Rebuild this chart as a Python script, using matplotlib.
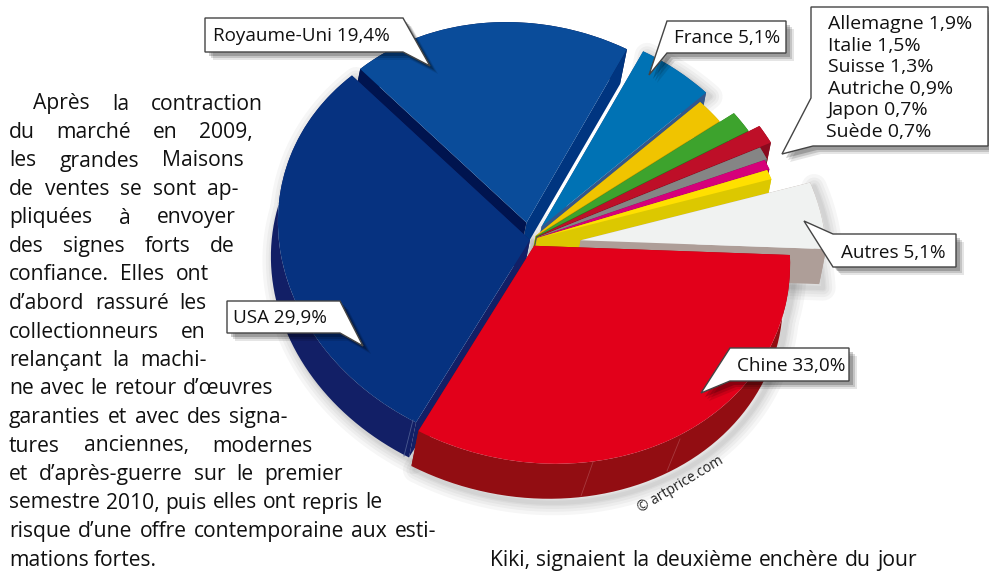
import matplotlib
matplotlib.use('Agg')
import matplotlib.pyplot as plt
import numpy as np
from matplotlib.patches import Polygon
from matplotlib.transforms import Affine2D

# Pie data, clockwise starting from Royaume-Uni
countries = ['Royaume-Uni', 'France', 'Allemagne', 'Italie', 'Suisse', 'Autriche',
             'Japon', 'Suède', 'Autres', 'Chine', 'USA']
shares = [19.4, 5.1, 1.9, 1.5, 1.3, 0.9, 0.7, 0.7, 5.1, 33.0, 29.9]

top_colors = ['#0A4C9A', '#0072B4', '#F0C400', '#3DA32D', '#BE0F28', '#858585',
              '#D6007A', '#FFE000', '#F0F2F1', '#E2001A', '#063280']
wall_colors = ['#00144F', '#33578C', '#B89B00', '#2C7A20', '#8A0A1E', '#6A6A6A',
               '#A00060', '#DCC800', '#AE9E98', '#920D12', '#121F66']
explode = [0.08, 0.08, 0.03, 0.03, 0.04, 0.03, 0.03, 0.03, 0.20, 0.03, 0.0]
radii = [0.92, 0.93, 0.93, 1.0, 1.04, 1.0, 0.99, 0.98, 0.96, 1.0, 0.985]

single_labels = ['Royaume-Uni 19,4%', 'France 5,1%', 'Autres 5,1%', 'USA 29,9%', 'Chine 33,0%']
group_labels = ['Allemagne 1,9%', 'Italie 1,5%', 'Suisse 1,3%', 'Autriche 0,9%', 'Japon 0,7%', 'Suède 0,7%']

body_lines = ['Après la contraction', 'du marché en 2009,', 'les grandes Maisons',
              'de ventes se sont ap-', 'pliquées à envoyer', 'des signes forts de',
              'confiance. Elles ont', 'd’abord rassuré les', 'collectionneurs en',
              'relançant la machi-', 'ne avec le retour d’œuvres', 'garanties et avec des signa-',
              'tures anciennes, modernes', 'et d’après-guerre sur le premier',
              'semestre 2010, puis elles ont repris le',
              'risque d’une offre contemporaine aux esti-', 'mations fortes.']
body_left = [33, 9, 9, 9, 9, 9, 9, 9, 9, 9, 9, 9, 9, 9, 9, 9, 9]
body_right = [263, 253, 244, 239, 236, 235, 209, 206, 206, 207, 273, 288, 313, 343, 382, 436, None]

FONT = 'Open Sans'
CX, CY, RX, RY, SHEAR = 530, 240, 255, 218, -22
WALL_DX, WALL_DY = -7, 35

fig = plt.figure(figsize=(9.89, 5.72), dpi=100)
ax = fig.add_axes([0, 0, 1, 1])

wedges, _ = ax.pie(shares, colors=top_colors, explode=explode, startangle=130, counterclock=False,
                   wedgeprops={'linewidth': 0})
ax.set_aspect('auto')
ax.set_xlim(0, 989)
ax.set_ylim(572, 0)
ax.set_axis_off()

pie_tf = Affine2D.from_values(RX, 0, SHEAR, -RY, CX, CY) + ax.transData


def to_px(u, v):
    return CX + RX * u + SHEAR * v, CY - RY * v


def rim_points(w, t1, t2, n=60):
    t = np.radians(np.linspace(t1, t2, n))
    return to_px(w.center[0] + w.r * np.cos(t), w.center[1] + w.r * np.sin(t))


# painter's order, far slices first
order = [0, 1, 2, 3, 4, 5, 6, 7, 8, 10, 9]

for i in order:
    w = wedges[i]
    w.set_radius(radii[i])
    w.set_transform(pie_tf)
    w.set_clip_on(False)

# Autres sits a little lower than a plain explode puts it
cu, cv = wedges[8].center
wedges[8].set_center((cu, cv - 0.025))

# soft shadow under the outer walls
for i in [1, 8, 9, 10]:
    w = wedges[i]
    x, y = rim_points(w, w.theta1, w.theta2)
    ax0, ay0 = to_px(*w.center)
    xs = np.r_[ax0, x, x[::-1] + WALL_DX, ax0 + WALL_DX]
    ys = np.r_[ay0, y, y[::-1] + WALL_DY, ay0 + WALL_DY]
    for lw in [18, 13, 9, 5, 3]:
        ax.add_patch(Polygon(np.c_[xs + 4, ys + 4], closed=True, facecolor='none', edgecolor='k',
                             linewidth=lw, alpha=0.035, joinstyle='round', zorder=1))

for rank, i in enumerate(order):
    w = wedges[i]
    z = 2 + 2 * rank
    w.set_zorder(z + 1)
    x, y = rim_points(w, w.theta1, w.theta2)
    ax0, ay0 = to_px(*w.center)
    # outer wall plus the two radial sides
    xs = np.r_[x, x[::-1] + WALL_DX]
    ys = np.r_[y, y[::-1] + WALL_DY]
    ax.add_patch(Polygon(np.c_[xs, ys], closed=True, facecolor=wall_colors[i], edgecolor='none', zorder=z))
    for k in [0, -1]:
        xs = [ax0, x[k], x[k] + WALL_DX, ax0 + WALL_DX]
        ys = [ay0, y[k], y[k] + WALL_DY, ay0 + WALL_DY]
        col = wall_colors[i]
        if i == 0 and k == 0:
            col = '#003580'  # right side of Royaume-Uni is lighter
        ax.add_patch(Polygon(np.c_[xs, ys], closed=True, facecolor=col, edgecolor='none', zorder=z))

# faint seams on the front walls
ax.plot([593, 581], [462, 496], color='#A83A3E', lw=0.6, zorder=30)
ax.plot([680, 667], [439, 471], color='#A83A3E', lw=0.6, zorder=30)
ax.plot([413, 404], [420, 456], color='#4A5A90', lw=0.6, zorder=30)


def callout(points):
    pts = np.array(points, dtype=float)
    for off, a in [(8, 0.10), (6, 0.14), (4, 0.20)]:
        ax.add_patch(Polygon(pts + [off, off], closed=True, facecolor='k', edgecolor='none', alpha=a, zorder=40))
    ax.add_patch(Polygon(pts, closed=True, facecolor='white', edgecolor='#444444', linewidth=1.0, zorder=41))


callout([(205, 18), (403, 18), (430, 66), (403, 52), (205, 52)])
callout([(667, 21), (786, 21), (786, 53), (667, 53), (649, 75)])
callout([(811, 7), (988, 7), (988, 146), (813, 146), (782, 154), (811, 98)])
callout([(833, 234), (956, 234), (956, 267), (833, 267), (804, 221)])
callout([(227, 301), (340, 301), (363, 346), (340, 333), (227, 333)])
callout([(730, 348), (849, 348), (849, 381), (730, 381), (701, 393)])

label_x = [213, 674, 841, 233, 737]
label_y = [41, 43, 258, 323, 371]
for txt, x, y in zip(single_labels, label_x, label_y):
    ax.text(x, y, txt, fontsize=13.6, family=FONT, color='#111111', zorder=42)

group_x = [828, 828, 828, 828, 827, 826]
for i, txt in enumerate(group_labels):
    ax.text(group_x[i], 29 + 21.6 * i, txt, fontsize=14, family=FONT, color='#111111', zorder=42)

ax.text(681, 485, '© artprice.com', fontsize=10, family=FONT, color='#222222', rotation=31,
        ha='center', va='center', rotation_mode='anchor', zorder=42)

renderer = fig.canvas.get_renderer()


def justified(line, x0, x1, y, size=15.2):
    words = line.split()
    items = [ax.text(0, y, wd, fontsize=size, family=FONT, color='#111111', zorder=42) for wd in words]
    widths = [t.get_window_extent(renderer).width for t in items]
    space = 0.26 * size * 100 / 72
    if x1 is not None and len(words) > 1:
        space = (x1 - x0 - sum(widths)) / (len(words) - 1)
    x = x0
    for t, wid in zip(items, widths):
        t.set_x(x)
        x += wid + space


for i, line in enumerate(body_lines):
    justified(line, body_left[i], body_right[i], 109.5 + 28.5 * i)

justified('Kiki, signaient la deuxième enchère du jour', 490, 917, 566)

fig.savefig('out.png', dpi=100)
